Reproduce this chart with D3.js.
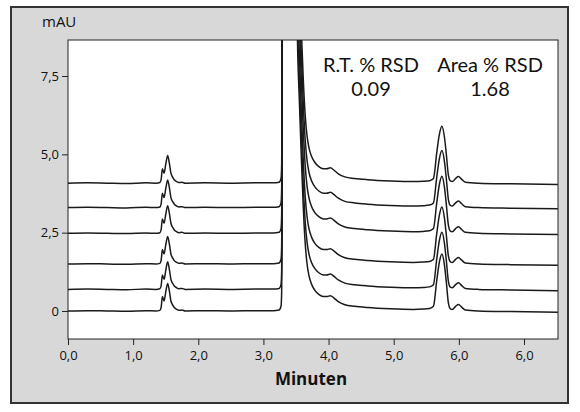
<!DOCTYPE html>
<html>
<head>
<meta charset="utf-8">
<script src="https://cdn.jsdelivr.net/npm/d3@7"></script>
<style>
  body { margin: 0; background: #fff; }
  svg { display: block; font-family: "Open Sans", sans-serif; }
</style>
</head>
<body>
<svg id="chart" width="580" height="412"></svg>
<script>
// chromatogram profile (minutes, mAU above baseline)
const retentionTimes = [0.00, 0.30, 0.60, 0.90, 1.20, 1.35, 1.41, 1.43, 1.449, 1.475, 1.50, 1.53, 1.555, 1.58, 1.61, 1.635, 1.67, 1.70, 1.75, 1.80,
  2.10, 2.50, 2.90, 3.15, 3.24, 3.27, 3.28, 3.285, 3.29, 3.30, 3.50, 3.52, 3.55, 3.58, 3.61, 3.64, 3.67, 3.70, 3.74, 3.79,
  3.85, 3.92, 3.97, 4.03, 4.08, 4.15, 4.25, 4.40, 4.60, 4.95, 5.30, 5.45, 5.55, 5.61, 5.66, 5.70, 5.74, 5.78, 5.806, 5.84,
  5.87, 5.90, 5.95, 5.995, 6.04, 6.10, 6.30, 6.80, 7.52];
const signal = [0.00, 0.01, 0.00, -0.01, 0.01, 0.00, 0.02, 0.12, 0.46, 0.32, 0.60, 0.88, 0.65, 0.32, 0.18, 0.10, 0.05, 0.02, 0.03, 0.00,
  0.01, 0.00, 0.01, 0.01, 0.03, 0.15, 0.6, 2, 10, 30, 30, 9.0, 6.8, 5.0, 3.4, 2.2, 1.5, 1.12, 0.85, 0.66,
  0.53, 0.46, 0.46, 0.49, 0.42, 0.30, 0.20, 0.15, 0.11, 0.07, 0.05, 0.06, 0.08, 0.15, 0.96, 1.55, 1.82, 1.45, 0.96, 0.25,
  0.07, 0.05, 0.15, 0.21, 0.13, 0.03, 0.00, -0.02, -0.04];

// vertical offset of each injection (mAU)
const traceOffsets = [0, 0.69, 1.5, 2.48, 3.3, 4.08];

const xTicks = [0, 1, 2, 3, 4, 5, 6, 7];
const xTickLabels = ["0,0", "1,0", "2,0", "3,0", "4,0", "5,0", "6,0", "6,0"];
const yTicks = [0, 2.5, 5, 7.5];
const yTickLabels = ["0", "2,5", "5,0", "7,5"];

const svg = d3.select("#chart");

// grey panel
svg.append("rect")
  .attr("x", 11).attr("y", 7)
  .attr("width", 557).attr("height", 396)
  .attr("fill", "#d8d8d8")
  .attr("stroke", "#333").attr("stroke-width", 2);

const plot = { left: 68, top: 40, right: 558, bottom: 339 };

const x = d3.scaleLinear().domain([0, 7.522]).range([plot.left, plot.right]);
const y = d3.scaleLinear().domain([-0.894, 8.65]).range([plot.bottom, plot.top]);

svg.append("rect")
  .attr("x", plot.left).attr("y", plot.top)
  .attr("width", plot.right - plot.left).attr("height", plot.bottom - plot.top)
  .attr("fill", "#fff")
  .attr("stroke", "#222").attr("stroke-width", 1);

svg.append("clipPath").attr("id", "clip")
  .append("rect")
  .attr("x", plot.left).attr("y", plot.top)
  .attr("width", plot.right - plot.left).attr("height", plot.bottom - plot.top);

// axes
const xAxis = d3.axisBottom(x)
  .tickValues(xTicks)
  .tickFormat((d, i) => xTickLabels[i])
  .tickSize(6).tickSizeOuter(0);
const yAxis = d3.axisLeft(y)
  .tickValues(yTicks)
  .tickFormat((d, i) => yTickLabels[i])
  .tickSize(6).tickSizeOuter(0);

const gx = svg.append("g").attr("transform", "translate(0," + plot.bottom + ")").call(xAxis);
const gy = svg.append("g").attr("transform", "translate(" + plot.left + ",0)").call(yAxis);
[gx, gy].forEach(g => {
  g.select(".domain").remove();
  g.selectAll("line").attr("stroke", "#222");
  g.selectAll("text").attr("fill", "#111").style("font-size", "13px").style("font-family", "Open Sans");
});
gx.selectAll("text").attr("dy", "0.9em");

// traces
const line = d3.line()
  .x(d => x(d[0]))
  .y(d => y(d[1]))
  .curve(d3.curveMonotoneX);

svg.append("g").attr("clip-path", "url(#clip)")
  .selectAll("path")
  .data(traceOffsets)
  .enter().append("path")
  .attr("d", off => line(retentionTimes.map((t, i) => [t, signal[i] + off])))
  .attr("fill", "none")
  .attr("stroke", "#1a1a1a")
  .attr("stroke-width", 1.5);

// labels
svg.append("text").attr("x", 42).attr("y", 27)
  .style("font-size", "15px").attr("fill", "#111").text("mAU");

svg.append("text").attr("x", 311).attr("y", 385)
  .attr("text-anchor", "middle")
  .style("font-size", "17px").style("font-weight", "bold").attr("fill", "#111")
  .text("Minuten");

const notes = [
  { cx: 371, title: "R.T. % RSD", value: "0.09" },
  { cx: 490, title: "Area % RSD", value: "1.68" }
];
notes.forEach(n => {
  svg.append("text").attr("x", n.cx).attr("y", 72)
    .attr("text-anchor", "middle").style("font-family", "Lato").style("font-size", "20px").attr("fill", "#111")
    .text(n.title);
  svg.append("text").attr("x", n.cx).attr("y", 96)
    .attr("text-anchor", "middle").style("font-family", "Lato").style("font-size", "20px").attr("fill", "#111")
    .text(n.value);
});
</script>
</body>
</html>
